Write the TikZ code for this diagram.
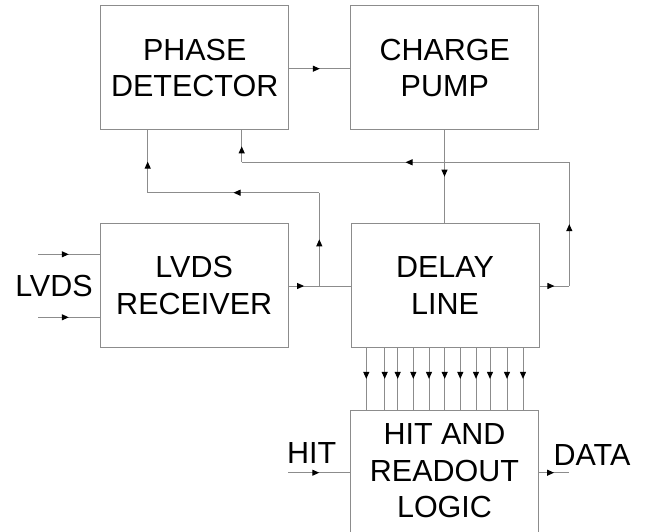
\documentclass[tikz,border=0pt]{standalone}
\usepackage{fontspec}
\setmainfont{Liberation Sans}
\usetikzlibrary{arrows.meta,decorations.markings}

\definecolor{linegray}{RGB}{140,140,140}

\tikzset{
  wire/.style={draw=linegray, line width=1pt},
  midarrow/.style={postaction={decorate},
    decoration={markings, mark=at position 0.5 with
      {\arrow{Triangle[length=7pt,width=6pt,fill=black,color=black]}}}},
  block/.style={draw=linegray, line width=1pt, inner sep=0pt, align=center,
    font=\fontsize{30.5}{36.7}\selectfont},
  lbl/.style={inner sep=0pt, anchor=base, font=\fontsize{30.5}{36.7}\selectfont}
}

\begin{document}
\begin{tikzpicture}[x=1pt,y=-1pt]
  \useasboundingbox (0,0) rectangle (650,532);
  \clip (0,0) rectangle (650,532);

  % blocks
  \node[block, minimum width=188pt, minimum height=124pt] (pd) at (194.7,68) {PHASE\\DETECTOR};
  \node[block, minimum width=187.8pt, minimum height=124pt] (cp) at (444.8,68) {CHARGE\\PUMP};
  \node[block, minimum width=188.3pt, minimum height=124.4pt] (lr) at (194.2,285.5) {LVDS\\RECEIVER};
  \node[block, minimum width=188pt, minimum height=124.4pt] (dl) at (445,285.5) {DELAY\\LINE};
  \node[block, minimum width=187.6pt, minimum height=150pt] (hr) at (444.5,485) {};
  \node[inner sep=0pt, align=center, font=\fontsize{30.5}{36.7}\selectfont]
    (hrtext) at (444.5,470.8) {HIT AND\\READOUT\\LOGIC};

  % outside labels
  \node[lbl] (lvds) at (54,296.7) {LVDS};
  \node[lbl] (hit) at (311.7,463.3) {HIT};
  \node[lbl] (data) at (592,465) {DATA};

  % routing points
  \coordinate (in1) at (38,254.3);
  \coordinate (in2) at (38,317.3);
  \coordinate (jl) at (319.3,286);
  \coordinate (bl) at (319.3,192.7);
  \coordinate (cl) at (147.7,192.7);
  \coordinate (jr) at (569.3,286);
  \coordinate (tr) at (569.3,162.3);
  \coordinate (tl) at (241.7,162.3);
  \coordinate (hitin) at (288.3,472.7);
  \coordinate (dataout) at (569.3,472.7);

  % forward path
  \draw[wire,midarrow] (pd.east |- 0,68.7) -- (cp.west |- 0,68.7);
  \draw[wire,midarrow] (cp.south -| 444.5,0) -- (dl.north -| 444.5,0);
  \draw[wire,midarrow] (lr.east |- jl) -- (jl);
  \draw[wire] (jl) -- (dl.west |- jl);

  % LVDS inputs
  \draw[wire,midarrow] (in1) -- (lr.west |- in1);
  \draw[wire,midarrow] (in2) -- (lr.west |- in2);

  % reference clock feedback to the phase detector
  \draw[wire,midarrow] (jl) -- (bl);
  \draw[wire,midarrow] (bl) -- (cl);
  \draw[wire,midarrow] (cl) -- (cl |- pd.south);

  % delay line output feedback to the phase detector
  \draw[wire,midarrow] (dl.east |- jr) -- (jr);
  \draw[wire,midarrow] (jr) -- (tr);
  \draw[wire,midarrow] (tr) -- (tl);
  \draw[wire,midarrow] (tl) -- (tl |- pd.south);

  % delay taps into the readout logic
  \foreach \x in {366.3,384.7,397.7,413.3,429,444.7,460.3,476,490,507,523}
    \draw[wire,midarrow] (\x,0 |- dl.south) -- (\x,0 |- hr.north);

  % hit input and data output
  \draw[wire,midarrow] (hitin) -- (hr.west |- hitin);
  \draw[wire,midarrow] (hr.east |- dataout) -- (dataout);
\end{tikzpicture}
\end{document}
